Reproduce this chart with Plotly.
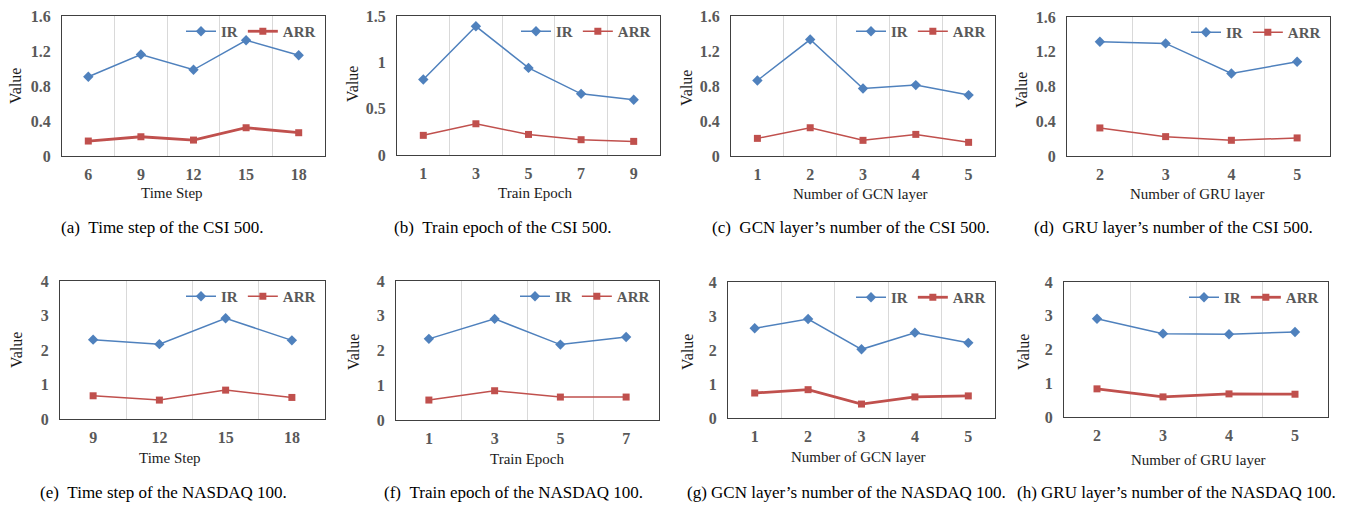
import plotly.graph_objects as go

# ---------------- data ----------------
cats_time_csi = ["6", "9", "12", "15", "18"]
ir_time_csi = [0.905, 1.16, 0.985, 1.323, 1.152]
arr_time_csi = [0.171, 0.22, 0.182, 0.323, 0.266]

cats_epoch_csi = ["1", "3", "5", "7", "9"]
ir_epoch_csi = [0.815, 1.389, 0.94, 0.66, 0.596]
arr_epoch_csi = [0.212, 0.337, 0.222, 0.165, 0.147]

cats_gcn_csi = ["1", "2", "3", "4", "5"]
ir_gcn_csi = [0.863, 1.331, 0.772, 0.81, 0.696]
arr_gcn_csi = [0.2015, 0.323, 0.179, 0.247, 0.156]

cats_gru_csi = ["2", "3", "4", "5"]
ir_gru_csi = [1.315, 1.296, 0.95, 1.085]
arr_gru_csi = [0.323, 0.223, 0.181, 0.208]

cats_time_nas = ["9", "12", "15", "18"]
ir_time_nas = [2.30, 2.17, 2.92, 2.28]
arr_time_nas = [0.673, 0.548, 0.837, 0.625]

cats_epoch_nas = ["1", "3", "5", "7"]
ir_epoch_nas = [2.335, 2.91, 2.17, 2.39]
arr_epoch_nas = [0.574, 0.842, 0.66, 0.66]

cats_gcn_nas = ["1", "2", "3", "4", "5"]
ir_gcn_nas = [2.64, 2.91, 2.02, 2.51, 2.21]
arr_gcn_nas = [0.735, 0.833, 0.41, 0.62, 0.65]

cats_gru_nas = ["2", "3", "4", "5"]
ir_gru_nas = [2.91, 2.47, 2.45, 2.52]
arr_gru_nas = [0.834, 0.596, 0.685, 0.675]

yticks_16 = [0, 0.4, 0.8, 1.2, 1.6]
yticks_15 = [0, 0.5, 1, 1.5]
yticks_4 = [0, 1, 2, 3, 4]

xtitles = ["Time Step", "Train Epoch", "Number of GCN layer", "Number of GRU layer",
           "Time Step", "Train Epoch", "Number of GCN layer", "Number of GRU layer"]
captions = [
    "(a)\u00a0\u00a0Time step of the CSI 500.",
    "(b)\u00a0\u00a0Train epoch of the CSI 500.",
    "(c)\u00a0\u00a0GCN layer\u2019s number of the CSI 500.",
    "(d)\u00a0\u00a0GRU layer\u2019s number of the CSI 500.",
    "(e)\u00a0\u00a0Time step of the NASDAQ 100.",
    "(f)\u00a0\u00a0Train epoch of the NASDAQ 100.",
    "(g) GCN layer\u2019s number of the NASDAQ 100.",
    "(h) GRU layer\u2019s number of the NASDAQ 100.",
]

# ---------------- layout / style ----------------
W, H = 1349, 506
SERIF = "Liberation Serif"
BLUE = "#4F81BD"
RED = "#C0504D"
TICKGRAY = "#595959"
TITLECOL = "#1a1a1a"

series = [
    (cats_time_csi, ir_time_csi, arr_time_csi, yticks_16),
    (cats_epoch_csi, ir_epoch_csi, arr_epoch_csi, yticks_15),
    (cats_gcn_csi, ir_gcn_csi, arr_gcn_csi, yticks_16),
    (cats_gru_csi, ir_gru_csi, arr_gru_csi, yticks_16),
    (cats_time_nas, ir_time_nas, arr_time_nas, yticks_4),
    (cats_epoch_nas, ir_epoch_nas, arr_epoch_nas, yticks_4),
    (cats_gcn_nas, ir_gcn_nas, arr_gcn_nas, yticks_4),
    (cats_gru_nas, ir_gru_nas, arr_gru_nas, yticks_4),
]

# plot box in pixels: left, right, top, bottom
boxes = [
    (62, 325, 16, 156), (397, 660, 16, 155), (731, 995, 16, 156), (1067, 1330, 17, 156),
    (60, 325, 281, 419), (396, 659, 281, 420), (728, 995, 282, 418), (1064, 1328, 282, 417),
]
arr_width = [2.8, 1.5, 1.5, 1.5, 1.5, 1.5, 2.8, 2.8]
ytitle_pos = [(15, 86), (352, 84), (686, 88), (1022, 90),
              (16, 350), (353, 352), (687, 352), (1023, 352)]
xtitle_pos = [(172, 193), (535, 193), (860, 194), (1197, 194),
              (170, 458), (527, 459), (858, 457), (1198, 460)]
caption_pos = [(162, 227), (503, 227), (851, 227), (1173, 227),
               (163, 492), (513, 492), (846, 492), (1176, 492)]

fig = go.Figure()
annotations = []
layout_upd = {}

for i, (cats, ir, arr, yt) in enumerate(series):
    k = i + 1
    sfx = "" if k == 1 else str(k)
    xa, ya, leg = "x" + sfx, "y" + sfx, "legend" + sfx
    l, r, t, b = boxes[i]

    fig.add_trace(go.Scatter(
        x=cats, y=ir, name="IR", mode="lines+markers",
        line=dict(color=BLUE, width=1.5),
        marker=dict(symbol="diamond", size=8, color=BLUE),
        xaxis=xa, yaxis=ya, legend=leg, hoverinfo="x+y+name"))
    fig.add_trace(go.Scatter(
        x=cats, y=arr, name="ARR", mode="lines+markers",
        line=dict(color=RED, width=arr_width[i]),
        marker=dict(symbol="square", size=7, color=RED),
        xaxis=xa, yaxis=ya, legend=leg, hoverinfo="x+y+name"))

    layout_upd["xaxis" + sfx] = dict(
        domain=[l / W, r / W], anchor=ya, type="category",
        categoryorder="array", categoryarray=cats,
        range=[-0.5, len(cats) - 0.5], tickson="boundaries",
        showgrid=True, gridcolor="#D9D9D9", gridwidth=1,
        showline=True, mirror=True, linecolor="#404040", linewidth=1,
        ticks="outside", ticklen=8, tickcolor="rgba(0,0,0,0)",
        ticklabelstandoff=4,
        tickfont=dict(family=SERIF, size=16, color=TICKGRAY, weight="bold"),
        zeroline=False, fixedrange=True)
    layout_upd["yaxis" + sfx] = dict(
        domain=[1 - b / H, 1 - t / H], anchor=xa,
        range=[0, yt[-1]], tickvals=yt, ticktext=[f"{v:g}" for v in yt],
        showgrid=False, zeroline=False,
        showline=True, mirror=True, linecolor="#404040", linewidth=1,
        ticks="outside", ticklen=7, tickcolor="rgba(0,0,0,0)",
        tickfont=dict(family=SERIF, size=16, color=TICKGRAY, weight="bold"),
        fixedrange=True)
    layout_upd[leg] = dict(
        x=(r - 4) / W, xanchor="right", y=1 - (t - 1) / H, yanchor="top",
        orientation="h", bgcolor="rgba(0,0,0,0)",
        font=dict(family=SERIF, size=15, color=TICKGRAY, weight="bold"),
        itemwidth=30)

    yx, yy = ytitle_pos[i]
    annotations.append(dict(
        text="Value", x=yx / W, y=1 - yy / H, xref="paper", yref="paper",
        textangle=-90, showarrow=False, xanchor="center", yanchor="middle",
        font=dict(family=SERIF, size=16, color=TITLECOL)))
    tx, ty = xtitle_pos[i]
    annotations.append(dict(
        text=xtitles[i], x=tx / W, y=1 - ty / H, xref="paper", yref="paper",
        showarrow=False, xanchor="center", yanchor="middle",
        font=dict(family=SERIF, size=15, color=TITLECOL)))
    cx, cy = caption_pos[i]
    annotations.append(dict(
        text=captions[i], x=cx / W, y=1 - cy / H, xref="paper", yref="paper",
        showarrow=False, xanchor="center", yanchor="middle",
        font=dict(family=SERIF, size=17, color="#000000")))

fig.update_layout(
    width=W, height=H, margin=dict(l=0, r=0, t=0, b=0, autoexpand=False),
    paper_bgcolor="white", plot_bgcolor="white",
    showlegend=True, annotations=annotations, **layout_upd)

fig.write_html(
    "out.html", config={"displayModeBar": False},
    post_script="document.body.style.margin='0';document.body.style.overflow='hidden';")
